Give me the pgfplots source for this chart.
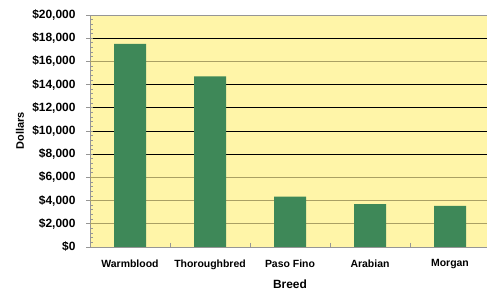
\documentclass[border=0pt]{standalone}
\usepackage{pgfplots}
\pgfplotsset{compat=1.18}
\usepackage{fontspec}
\setmainfont{Liberation Sans}
\definecolor{bgyel}{RGB}{255,245,168}
\definecolor{bargreen}{RGB}{62,136,88}
\definecolor{axgray}{RGB}{150,150,150}
\definecolor{olivegrid}{RGB}{170,160,100}
\begin{document}
\begin{tikzpicture}
\useasboundingbox (0,0) rectangle (487bp,293bp);
\begin{axis}[
  at={(90bp,46bp)}, anchor=south west,
  scale only axis, width=400bp, height=232bp,
  xmin=-0.5, xmax=4.5, ymin=0, ymax=20000,
  scaled y ticks=false,
  axis background/.style={fill=bgyel},
  axis line style={axgray, line width=0.8pt},
  axis x line*=bottom, axis y line*=left,
  xtick={0,1,2,3,4}, xticklabels={Warmblood,Thoroughbred,Paso Fino,Arabian,Morgan},
  x tick label style={font=\bfseries\fontsize{10.5}{12}\selectfont, yshift=-13bp},
  xtick style={draw=none},
  extra x ticks={0.5,1.5,2.5,3.5},
  extra x tick labels={},
  extra x tick style={xtick style={draw=axgray, line width=0.8pt}},
  ytick={0,8000,10000,12000,14000,18000,20000},
  yticklabels={\$0,{\$8,000},{\$10,000},{\$12,000},{\$14,000},{\$18,000},{\$20,000}},
  extra y ticks={2000,4000,6000,16000},
  extra y tick labels={{\$2,000},{\$4,000},{\$6,000},{\$16,000}},
  extra y tick style={major grid style={olivegrid, line width=0.9pt}},
  y tick label style={font=\bfseries\fontsize{12}{14}\selectfont, xshift=-11bp},
  ymajorgrids, major grid style={black, line width=0.9pt},
  minor ytick={400,800,...,19600},
  ytick style={draw=axgray, line width=0.8pt},
  tick align=inside,
  major tick length=-4bp, minor tick length=3bp,
  ybar, bar width=32bp,
]
\addplot[fill=bargreen, draw=none] coordinates {(0,17500) (1,14700) (2,4350) (3,3700) (4,3550)};
\end{axis}
\draw[axgray, line width=0.8pt] (90bp,278bp) -- (490bp,278bp);
\node[rotate=90, font=\bfseries\fontsize{11}{13}\selectfont] at (20bp,162bp) {Dollars};
\node[font=\bfseries\fontsize{12}{14}\selectfont] at (290bp,9bp) {Breed};
\end{tikzpicture}
\end{document}
